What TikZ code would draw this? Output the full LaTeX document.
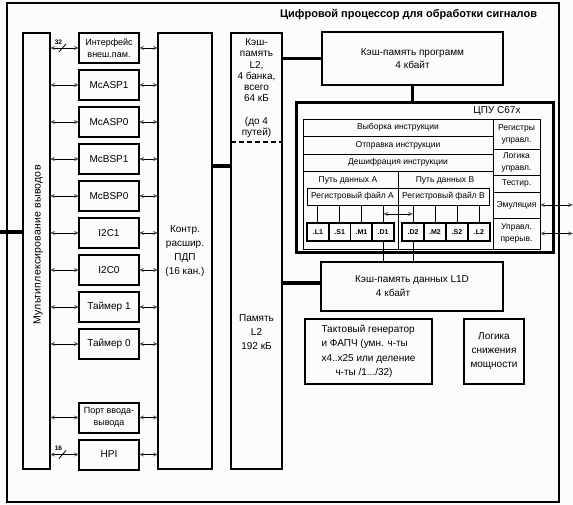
\documentclass[tikz,border=0pt]{standalone}
\usepackage{fontspec}
\setmainfont{Liberation Sans}
\usetikzlibrary{calc,positioning,arrows.meta}
\definecolor{paper}{RGB}{251,253,250}

\begin{document}
\begin{tikzpicture}[
        x=1pt, y=-1pt,
        every node/.style={inner sep=0pt, outer sep=0pt},
        txt/.style={align=center, font=\fontsize{10}{14}\selectfont},
        block/.style={rectangle, draw, line width=2pt, align=center, font=\fontsize{10}{14}\selectfont},
        periph/.style={block, minimum width=60pt, minimum height=30pt},
        cell/.style={rectangle, draw, line width=0.9pt, align=center, font=\fontsize{8.5}{12}\selectfont},
        unit/.style={rectangle, draw, line width=1.8pt, minimum width=21.75pt, minimum height=18pt, font=\bfseries\fontsize{7}{8}\selectfont},
        tip/.tip={Stealth[length=5pt, width=4pt, color=gray!65!black]},
        conn/.style={line width=0.8pt, tip-tip},
        bus/.style={line width=3.2pt},
    ]
        \fill[paper] (0,0) rectangle (573,505);
        \useasboundingbox (0,0) rectangle (573,505);

        % Chip frame
        \node (frame) [rectangle, draw, line width=2.2pt, minimum width=552pt, minimum height=499pt] at (283,252.5) {};
        \node (title) [anchor=east, font=\bfseries\fontsize{11}{13}\selectfont] at (537,15) {Цифровой процессор для обработки сигналов};

        % Pin mux, DMA, L2
        \node (mux) [block, minimum width=27pt, minimum height=436pt] at (36.5,251) {};
        \node (muxname) [txt, rotate=90, font=\fontsize{10.5}{13}\selectfont\addfontfeatures{LetterSpace=2}] at (38,245) {Мультиплексирование выводов};
        \node (dma) [block, minimum width=54pt, minimum height=436pt] at (185,251) {Контр.\\расшир.\\ПДП\\(16 кан.)};
        \node (l2) [block, minimum width=51pt, minimum height=436pt] at (256.5,251) {};
        \node (l2cache) [txt, font=\fontsize{10}{11.2}\selectfont] at (256.5,88) {Кэш-\\память\\L2,\\4 банка,\\всего\\64 кБ\\[11.2pt](до 4\\путей)};
        \node (l2mem) [txt] at (256.5,332) {Память\\L2\\192 кБ};
        \coordinate (l2split) at (256.5,142);
        \draw[line width=1.8pt, dash pattern=on 5pt off 3pt] (l2split -| l2.west) -- (l2split -| l2.east);

        % Peripherals
        \node (ext) [periph, font=\fontsize{9}{11.5}\selectfont] at (109,48) {Интерфейс\\внеш.пам.};
        \node (mcasp1) [periph, below=7pt of ext] {McASP1};
        \node (mcasp0) [periph, below=7pt of mcasp1] {McASP0};
        \node (mcbsp1) [periph, below=7pt of mcasp0] {McBSP1};
        \node (mcbsp0) [periph, below=7pt of mcbsp1] {McBSP0};
        \node (i2c1) [periph, below=7pt of mcbsp0] {I2C1};
        \node (i2c0) [periph, below=7pt of i2c1] {I2C0};
        \node (tim1) [periph, below=7pt of i2c0] {Таймер 1};
        \node (tim0) [periph, below=7pt of tim1] {Таймер 0};
        \node (gpio) [periph, font=\fontsize{9}{11.5}\selectfont, below=43.5pt of tim0] {Порт ввода-\\вывода};
        \node (hpi) [periph, below=7pt of gpio] {HPI};

        % Caches
        \node (pcache) [block, minimum width=181pt, minimum height=53pt, font=\fontsize{10}{13}\selectfont] at (412.5,58.5) {Кэш-память программ\\4 кбайт};
        \node (l1d) [block, minimum width=182pt, minimum height=49pt, font=\fontsize{10}{14}\selectfont] at (412,286.5) {Кэш-память данных L1D\\4 кбайт\hspace*{38pt}};

        % CPU
        \node (cpu) [rectangle, draw, line width=3pt, minimum width=257pt, minimum height=150pt] at (424.5,178) {};
        \node (cpuname) [txt, font=\fontsize{10}{12}\selectfont] at (497,111) {ЦПУ C67x};
        \node (fetch) [cell, minimum width=190pt, minimum height=17pt] at (398,127.5) {Выборка инструкции};
        \node (dispatch) [cell, minimum width=190pt, minimum height=18pt] at (398,145) {Отправка инструкции};
        \node (decode) [cell, minimum width=190pt, minimum height=17pt] at (398,162.5) {Дешифрация инструкции};
        \node (pathA) [cell, minimum width=95pt, minimum height=78pt] at (350.5,210) {};
        \node (pathB) [cell, minimum width=95pt, minimum height=78pt] at (445.5,210) {};
        \node (pathAname) [cell, draw=none] at (348,180) {Путь данных А};
        \node (pathBname) [cell, draw=none] at (445,180) {Путь данных В};
        \node (rfA) [cell, minimum width=91pt, minimum height=17pt] at (352.5,196.5) {Регистровый файл А};
        \node (rfB) [cell, minimum width=91pt, minimum height=17pt] at (443.5,196.5) {Регистровый файл В};
        \node (regs) [cell, minimum width=47pt, minimum height=30pt] at (516.5,134) {Регистры\\управл.};
        \node (logic) [cell, minimum width=47pt, minimum height=26pt] at (516.5,162) {Логика\\управл.};
        \node (test) [cell, minimum width=47pt, minimum height=17pt] at (516.5,183.5) {Тестир.};
        \node (emu) [cell, minimum width=47pt, minimum height=26pt] at (516.5,205) {Эмуляция};
        \node (irq) [cell, minimum width=47pt, minimum height=31pt] at (516.5,233.5) {Управл.\\прерыв.};

        % Functional units
        \node (ul1) [unit] at (317.9,232) {.L1};
        \node (us1) [unit, right=0pt of ul1] {.S1};
        \node (um1) [unit, right=0pt of us1] {.M1};
        \node (ud1) [unit, right=0pt of um1] {.D1};
        \node (ud2) [unit, minimum width=22pt] at (413,232) {.D2};
        \node (um2) [unit, minimum width=22pt, right=0pt of ud2] {.M2};
        \node (us2) [unit, minimum width=22pt, right=0pt of um2] {.S2};
        \node (ul2) [unit, minimum width=22pt, right=0pt of us2] {.L2};

        \draw[line width=0.9pt] (ul1.north) -- (ul1.north |- rfA.south);
        \draw[line width=0.9pt] (us1.north) -- (us1.north |- rfA.south);
        \draw[line width=0.9pt] (um1.north) -- (um1.north |- rfA.south);
        \draw[line width=0.9pt] (ud1.north) -- (ud1.north |- rfA.south);
        \draw[line width=0.9pt] (ud2.north) -- (ud2.north |- rfB.south);
        \draw[line width=0.9pt] (um2.north) -- (um2.north |- rfB.south);
        \draw[line width=0.9pt] (us2.north) -- (us2.north |- rfB.south);
        \draw[line width=0.9pt] (ul2.north) -- (ul2.north |- rfB.south);
        \draw[conn] ($(ud1.north)!0.5!(ud1.north |- rfA.south)$) -- ($(ud2.north)!0.5!(ud2.north |- rfB.south)$);

        % Data paths to L1D
        \draw[line width=0.9pt] (ud1.south) -- (ud1.south |- l1d.north);
        \draw[line width=0.9pt] (ud2.south) -- (ud2.south |- l1d.north);

        % Buses
        \coordinate (pins) at (0,232);
        \coordinate (dmabus) at (222,166);
        \coordinate (l1dbus) at (300,283);
        \draw[bus] (pins) -- (pins -| mux.west);
        \draw[bus] (dmabus -| dma.east) -- (dmabus -| l2.west);
        \draw[bus] (l2.east |- pcache.west) -- (pcache.west);
        \draw[bus] (pcache.south) -- (pcache.south |- cpu.north);
        \draw[bus] (l1dbus -| l2.east) -- (l1dbus -| l1d.west);

        % Peripheral links
        \draw[conn] (mux.east |- ext.west) -- coordinate[pos=0.43] (w32) (ext.west);
        \draw[line width=0.8pt] ([shift={(-3.5,4)}]w32) -- ([shift={(3.5,-4)}]w32);
        \node (n32) [font=\bfseries\fontsize{6.5}{7}\selectfont] at ([shift={(-4,-6)}]w32) {32};
        \draw[conn] (mux.east |- mcasp1.west) -- (mcasp1.west);
        \draw[conn] (mux.east |- mcasp0.west) -- (mcasp0.west);
        \draw[conn] (mux.east |- mcbsp1.west) -- (mcbsp1.west);
        \draw[conn] (mux.east |- mcbsp0.west) -- (mcbsp0.west);
        \draw[conn] (mux.east |- i2c1.west) -- (i2c1.west);
        \draw[conn] (mux.east |- i2c0.west) -- (i2c0.west);
        \draw[conn] (mux.east |- tim1.west) -- (tim1.west);
        \draw[conn] (mux.east |- tim0.west) -- (tim0.west);
        \draw[conn] (mux.east |- gpio.west) -- (gpio.west);
        \draw[conn] (mux.east |- hpi.west) -- coordinate[pos=0.43] (w16) (hpi.west);
        \draw[line width=0.8pt] ([shift={(-3.5,4)}]w16) -- ([shift={(3.5,-4)}]w16);
        \node (n16) [font=\bfseries\fontsize{6.5}{7}\selectfont] at ([shift={(-4,-6)}]w16) {16};

        \draw[conn] (ext.east) -- (ext.east -| dma.west);
        \draw[conn] (mcasp1.east) -- (mcasp1.east -| dma.west);
        \draw[conn] (mcasp0.east) -- (mcasp0.east -| dma.west);
        \draw[conn] (mcbsp1.east) -- (mcbsp1.east -| dma.west);
        \draw[conn] (mcbsp0.east) -- (mcbsp0.east -| dma.west);
        \draw[conn] (i2c1.east) -- (i2c1.east -| dma.west);
        \draw[conn] (i2c0.east) -- (i2c0.east -| dma.west);
        \draw[conn] (tim1.east) -- (tim1.east -| dma.west);
        \draw[conn] (tim0.east) -- (tim0.east -| dma.west);
        \draw[conn] (gpio.east) -- (gpio.east -| dma.west);
        \draw[conn] (hpi.east) -- (hpi.east -| dma.west);

        % External CPU signals
        \coordinate (extout) at (573,220);
        \draw[conn] (emu.east) -- (extout |- emu.east);
        \draw[conn] (irq.east) -- (extout |- irq.east);

        % Clock and power
        \node (clock) [block, minimum width=127pt, minimum height=65pt, align=left, font=\fontsize{10}{14.5}\selectfont] at (368.5,351.5) {Тактовый генератор\\и ФАПЧ (умн. ч-ты\\x4..x25 или деление\\\hspace*{1.4em}ч-ты /1.../32)};
        \node (power) [block, minimum width=60pt, minimum height=65pt] at (494,351.5) {Логика\\снижения\\мощности};
    \end{tikzpicture}
\end{document}
